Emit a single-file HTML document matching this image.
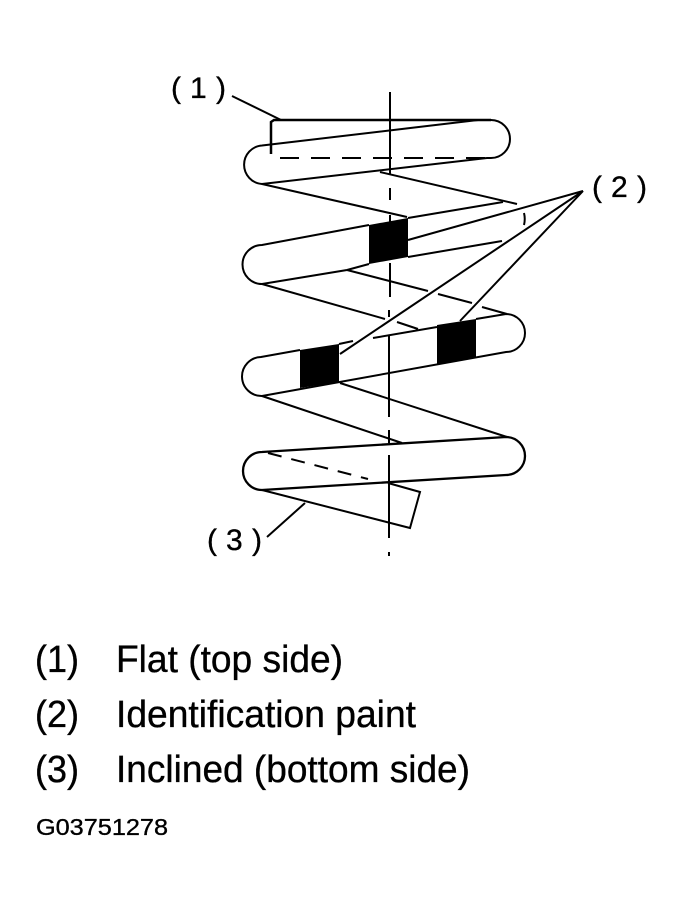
<!DOCTYPE html>
<html>
<head>
<meta charset="utf-8">
<style>
html,body{margin:0;padding:0;background:#fff;}
svg{display:block;}
text{font-family:"Liberation Sans",sans-serif;fill:#000;stroke:#000;stroke-width:.35px;}
</style>
</head>
<body>
<svg width="683" height="911" viewBox="0 0 683 911" xmlns="http://www.w3.org/2000/svg">
<g fill="none" stroke="#000" stroke-width="2">
<!-- center line -->
<path d="M390 92V175M390 188V200M390 215V225M390 263V297M389 310V317M389 335V417M389 430V443M389 455V538M389 552V556"/>
<!-- coil 1 -->
<path d="M271 154V122L274 120H491" stroke-width="2.500"/>
<path d="M262 145.500L478 120H491A19 19 0 0 1 491 158H487L262 184A19.300 19.300 0 0 1 262 145.500Z"/>
<path d="M280 158H487" stroke-dasharray="19 12"/>
<path d="M232 96L281 120"/>
<!-- connector 1-2 -->
<path d="M262 184L407 217M380 172L517 204"/>
<!-- coil 2 -->
<path d="M408 218L503 202"/>
<path d="M369 225L262 245A19.500 19.500 0 0 0 262 284L347 270L369 264"/>
<path d="M408 257L502 241"/>
<path d="M524 213C525 217 525 221 524 225"/>
<!-- connector 2-3 -->
<path d="M347 270L428 291M438 294L472 303M482 307L507 314"/>
<path d="M262 284L385 319M397 322L418 329"/>
<!-- coil 3 -->
<path d="M373 338L437 327M476 319L506 314A19 19 0 0 1 506 352L262 396A19.500 19.500 0 0 1 261 357L300 350M339 344L353 341"/>
<!-- connector 3-4 -->
<path d="M262 396L402 443M340 383L507 437"/>
<!-- coil 4 -->
<path d="M262 452L506 437A19 19 0 0 1 506 475L262 490A19 19 0 0 1 262 452Z" stroke-width="2.300"/>
<path d="M268 453L368 479" stroke-dasharray="14 10"/>
<path d="M388 483L420 492L410 528L262 490"/>
<!-- leaders -->
<path d="M305 503L267 537"/>
<path d="M408 240L583 191L340 354M583 191L460 321"/>
</g>
<!-- paint -->
<polygon points="369,225 408,218 408,257 369,264" fill="#000"/>
<polygon points="437,325 476,319 476,357 437,364" fill="#000"/>
<polygon points="300,350 339,344 339,382 300,388" fill="#000"/>
<!-- callouts -->
<g font-size="30">
<text x="171" y="98">(</text><text x="190" y="98">1</text><text x="216" y="98">)</text>
<text x="592" y="197">(</text><text x="611" y="197">2</text><text x="637" y="197">)</text>
<text x="207" y="550">(</text><text x="226" y="550">3</text><text x="252" y="550">)</text>
</g>
<!-- legend -->
<g font-size="38">
<text x="35" y="672" textLength="44" lengthAdjust="spacingAndGlyphs">(1)</text>
<text x="116" y="672" textLength="227" lengthAdjust="spacingAndGlyphs">Flat (top side)</text>
<text x="35" y="727" textLength="44" lengthAdjust="spacingAndGlyphs">(2)</text>
<text x="116" y="727" textLength="300" lengthAdjust="spacingAndGlyphs">Identification paint</text>
<text x="35" y="782" textLength="44" lengthAdjust="spacingAndGlyphs">(3)</text>
<text x="116" y="782" textLength="354" lengthAdjust="spacingAndGlyphs">Inclined (bottom side)</text>
</g>
<text x="36" y="835" font-size="23" textLength="132" lengthAdjust="spacingAndGlyphs">G03751278</text>
</svg>
</body>
</html>
